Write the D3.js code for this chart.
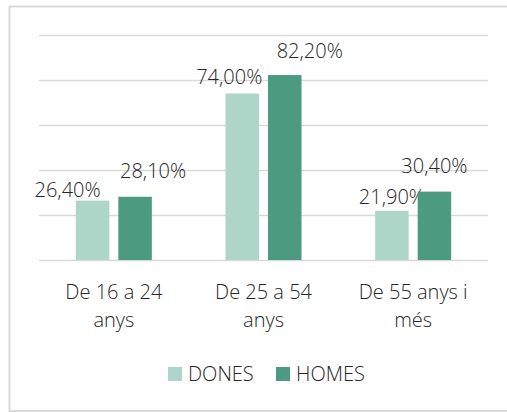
<!DOCTYPE html>
<html>
<head>
    <meta charset="utf-8">
    <title>DONES / HOMES per edat</title>
    <script src="https://cdn.jsdelivr.net/npm/d3@7"></script>
    <style>
    body { margin: 0; background: #fff; }
    text { font-family: "Open Sans", "Noto Sans", sans-serif; font-weight: 300; fill: #262626; }
    </style>
</head>
<body>
<div id="chart"></div>

<script>
    // categories and series values
    var categories = [["De 16 a 24", "anys"], ["De 25 a 54", "anys"], ["De 55 anys i", "més"]];
    var seriesNames = ["DONES", "HOMES"];
    var dones = [26.4, 74.0, 21.9];
    var homes = [28.1, 82.2, 30.4];
    var yTicks = [0, 20, 40, 60, 80, 100];

    var colors = { DONES: "#aed6c8", HOMES: "#4c9a80" };
    // manual nudges of the data labels (Excel moved them around to avoid overlaps)
    var labelNudge = {
        DONES: [[-25, -4], [-13, -10], [0, -7]],
        HOMES: [[18, -19], [25, -17], [0, -19]]
    };

    var w = 507, h = 412;
    var m = { top: 35, right: 19, bottom: 152, left: 39 };

    var svg = d3.select("#chart").append("svg")
        .attr("width", w)
        .attr("height", h);

    // chart area border (no right edge visible in the reference)
    svg.append("path")
        .attr("d", "M" + (w + 5) + ",6.5 H9.5 V411 H" + (w + 5))
        .attr("fill", "none")
        .attr("stroke", "#d9d9d9")
        .attr("stroke-width", 2);

    var x0 = d3.scaleBand()
        .domain(d3.range(categories.length))
        .range([m.left, w - m.right]);

    var groupW = 76;
    var x1 = d3.scaleBand()
        .domain(seriesNames)
        .range([x0.bandwidth() / 2 - groupW / 2, x0.bandwidth() / 2 + groupW / 2])
        .paddingInner(0.212);

    var y = d3.scaleLinear()
        .domain([0, 100])
        .range([h - m.bottom, m.top]);

    // gridlines
    svg.append("g")
        .attr("transform", "translate(" + m.left + ",0)")
        .call(d3.axisLeft(y).tickValues(yTicks).tickSize(-(w - m.left - m.right)).tickFormat(""))
        .call(function(g) {
            g.select(".domain").remove();
            g.selectAll("line").attr("stroke", "#d9d9d9").attr("stroke-width", 1.3);
        });

    var rows = seriesNames.map(function(s) {
        return { name: s, values: s === "DONES" ? dones : homes };
    });

    var groups = svg.selectAll(".series")
        .data(rows)
        .enter()
        .append("g")
        .attr("class", "series");

    groups.selectAll("rect")
        .data(function(r) { return r.values.map(function(v, i) { return { s: r.name, i: i, v: v }; }); })
        .enter()
        .append("rect")
        .attr("x", function(d) { return x0(d.i) + x1(d.s); })
        .attr("width", x1.bandwidth())
        .attr("y", function(d) { return y(d.v); })
        .attr("height", function(d) { return y(0) - y(d.v); })
        .attr("fill", function(d) { return colors[d.s]; });

    groups.selectAll("text")
        .data(function(r) { return r.values.map(function(v, i) { return { s: r.name, i: i, v: v }; }); })
        .enter()
        .append("text")
        .attr("x", function(d) { return x0(d.i) + x1(d.s) + x1.bandwidth() / 2 + labelNudge[d.s][d.i][0]; })
        .attr("y", function(d) { return y(d.v) + labelNudge[d.s][d.i][1]; })
        .attr("text-anchor", "middle")
        .attr("font-size", 20)
        .text(function(d) { return d.v.toFixed(2).replace(".", ",") + "%"; });

    // category labels (two lines each)
    var cat = svg.append("g")
        .selectAll("text")
        .data(categories)
        .enter()
        .append("text")
        .attr("text-anchor", "middle")
        .attr("font-size", 20)
        .attr("transform", function(d, i) { return "translate(" + (x0(i) + x0.bandwidth() / 2) + "," + (y(0) + 39) + ")"; });

    cat.selectAll("tspan")
        .data(function(d) { return d; })
        .enter()
        .append("tspan")
        .attr("x", 0)
        .attr("dy", function(d, i) { return i === 0 ? 0 : 28; })
        .text(function(d) { return d; });

    // legend
    var legend = svg.append("g")
        .attr("transform", "translate(168,367)");

    var items = legend.selectAll("g")
        .data(seriesNames)
        .enter()
        .append("g")
        .attr("transform", function(d, i) { return "translate(" + (i * 108) + ",0)"; });

    items.append("rect")
        .attr("width", 14)
        .attr("height", 14)
        .attr("fill", function(d) { return colors[d]; });

    items.append("text")
        .attr("x", 20)
        .attr("y", 14)
        .attr("font-size", 20)
        .text(function(d) { return d; });
</script>
</body>
</html>
